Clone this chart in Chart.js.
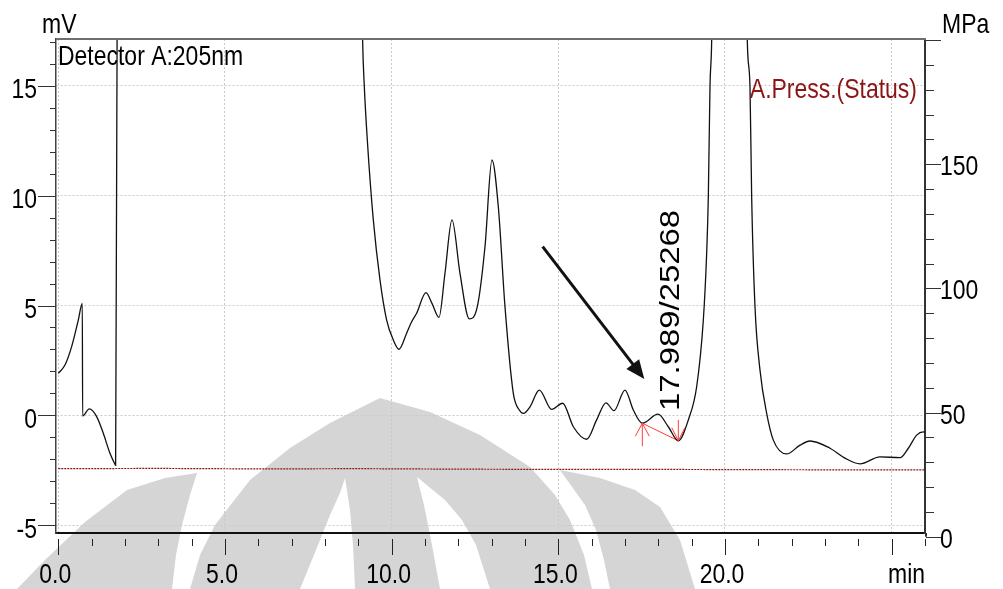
<!DOCTYPE html>
<html>
<head>
<meta charset="utf-8">
<title>Detector A 205nm</title>
<script src="https://cdn.jsdelivr.net/npm/chart.js@4.4.1/dist/chart.umd.min.js"></script>
<style>
  html, body { margin: 0; padding: 0; background: #fff; }
  #wrap { width: 1003px; height: 589px; }
</style>
</head>
<body>
<div id="wrap"><canvas id="chrom" width="1003" height="589"></canvas></div>
<script>
// retention time (min) / detector A signal (mV)
const timeMin = [
  0.00, 0.20, 0.40, 0.60, 0.72, 0.73, 0.93, 1.15, 1.35, 1.55, 1.70, 1.72, 1.77,
  3.0, 6.0, 9.0, 9.05, 9.13, 9.18, 9.27, 9.45, 9.65, 9.85, 10.05, 10.22, 10.45,
  10.60, 10.75, 11.03, 11.21, 11.42, 11.60, 11.81, 12.05, 12.33, 12.57, 12.80,
  13.01, 13.20, 13.40, 13.65, 13.83, 13.95, 14.15, 14.43, 14.80, 15.13, 15.45,
  15.85, 16.15, 16.43, 16.67, 17.00, 17.25, 17.52, 17.99, 18.30, 18.60, 18.90,
  19.15, 19.35, 19.45, 19.50, 19.55, 19.60, 20.13, 20.67, 20.75, 20.80, 20.90,
  21.05, 21.25, 21.45, 21.85, 22.25, 22.55, 23.15, 23.60, 24.05, 24.65, 25.25,
  25.50, 25.75, 25.95, 26.05
];
const signalMv = [
  1.91, 2.29, 3.13, 4.34, 5.10, -0.03, 0.29, -0.06, -0.82, -1.73, -2.23, -2.28, 20,
  40, 45, 30, 25, 17.02, 14.97, 12.54, 8.90, 6.17, 4.34, 3.43, 3.01, 3.74,
  4.26, 4.65, 5.59, 5.10, 4.46, 6.47, 8.90, 6.47, 4.39, 4.95, 7.68,
  11.63, 9.50, 4.95, 1.00, 0.24, 0.09, 0.39, 1.15, 0.27, 0.55, -0.52,
  -1.09, -0.21, 0.57, 0.21, 1.15, 0.24, -0.36, 0.05, -0.52, -1.16, -0.21,
  1.30, 4.34, 7.38, 9.96, 14.97, 17.02, 80, 17.02, 14.97, 9.96, 4.95,
  2.06, 0.09, -1.13, -1.76, -1.36, -1.17, -1.50, -1.95, -2.21, -1.89, -1.93,
  -1.50, -0.90, -0.75, -0.80
];

// pump pressure (MPa)
const pressTime = [0, 3, 6, 9, 12, 15, 18, 21, 24, 26];
const pressMpa = [27.4, 27.5, 27.3, 27.4, 27.2, 27.1, 27.1, 27.0, 26.9, 26.9];

// axis ticks
const xTicks = [0, 5, 10, 15, 20];
const xTickLabels = ['0.0', '5.0', '10.0', '15.0', '20.0'];
const mvTicks = [-5, 0, 5, 10, 15];
const mpaTicks = [0, 50, 100, 150];

// integrated peak: start/end of baseline, label, pointer arrow
const peakTime = 17.989;
const peakArea = 25268;
const peakStart = [17.52, -0.36];
const peakEnd = [18.60, -1.16];
const peakLabelAt = [18.40, 0.20];
const arrowFrom = [14.53, 7.68];
const arrowTo = [17.58, 1.65];

const SANS = "'Liberation Sans', Arial, sans-serif";
const NARROW = 0.82;          // Arial Narrow look from Liberation Sans
const GRID = '#c9c9c9';
const PRESS_RED = '#8c1414';
const MARK_RED = '#ff3c3c';

const toXY = (xs, ys) => xs.map((x, i) => ({ x: x, y: ys[i] }));

function narrowText(ctx, text, px, py, align, color) {
  ctx.save();
  ctx.translate(px, py);
  ctx.scale(NARROW, 1);
  ctx.font = '28px ' + SANS;
  ctx.textAlign = align;
  ctx.textBaseline = 'alphabetic';
  ctx.fillStyle = color;
  ctx.fillText(text, 0, 0);
  ctx.restore();
}

// faint logo printed behind the plot
const backdrop = {
  id: 'backdrop',
  beforeDraw(chart) {
    const ctx = chart.ctx;
    const poly = (pts, fill) => {
      ctx.beginPath();
      pts.forEach((p, i) => i ? ctx.lineTo(p[0], p[1]) : ctx.moveTo(p[0], p[1]));
      ctx.closePath();
      ctx.fillStyle = fill;
      ctx.fill();
    };
    ctx.save();
    ctx.fillStyle = '#fff';
    ctx.fillRect(0, 0, chart.width, chart.height);
    const grey = '#d5d5d5';
    poly([[17,589],[45,560],[85,522],[127,490],[165,478],[197,473],[190,495],[182,525],[176,555],[172,589]], grey);
    poly([[190,589],[200,555],[215,525],[250,480],[290,448],[330,423],[380,398],[430,412],
          [480,435],[530,467],[555,495],[570,520],[584,555],[592,589]], grey);
    poly([[560,470],[600,478],[635,490],[660,507],[680,540],[695,589],[610,589],[604,560],[596,530],[585,505]], grey);
    poly([[345,478],[340,493],[330,515],[318,545],[300,589],[355,589],[353,545],[350,510]], '#fff');
    poly([[417,477],[445,500],[462,520],[476,545],[490,589],[440,589],[432,545],[424,505]], '#fff');
    ctx.restore();
  }
};

// tick marks, labels, frame, captions and the peak annotation
const decorations = {
  id: 'decorations',
  afterDraw(chart) {
    const ctx = chart.ctx;
    const { left, right, top, bottom } = chart.chartArea;
    const x = chart.scales.x, y = chart.scales.y, y2 = chart.scales.y2;
    const line = (x1, y1, x2, y2_, color, w) => {
      ctx.beginPath();
      ctx.moveTo(x1, y1);
      ctx.lineTo(x2, y2_);
      ctx.strokeStyle = color;
      ctx.lineWidth = w;
      ctx.stroke();
    };
    ctx.save();

    // top frame
    line(left, top, right + 1, top, '#6e6e6e', 2);
    // right axis runs down to its own zero
    line(right + 1, bottom, right + 1, y2.getPixelForValue(0), '#333', 2);

    // x ticks sit a little below the axis line
    for (let v = 0; v <= 26; v++) {
      const px = Math.round(x.getPixelForValue(v)) + 0.5;
      const major = v % 5 === 0;
      line(px, bottom + 6, px, bottom + (major ? 22 : 13), '#222', 1);
    }
    for (let v = -5; v <= 17; v++) {
      const py = Math.round(y.getPixelForValue(v)) + 0.5;
      const major = v % 5 === 0;
      line(left - (major ? 18 : 6), py, left, py, '#333', 1);
    }
    for (let v = 0; v <= 200; v += 10) {
      const py = Math.round(y2.getPixelForValue(v)) + 0.5;
      if (py < top) continue;
      const major = v % 50 === 0;
      line(right + 1, py, right + (major ? 16 : 9), py, '#333', 1);
    }

    // tick labels
    xTicks.forEach((v, i) => narrowText(ctx, xTickLabels[i], x.getPixelForValue(v) - 3, 583, 'center', '#000'));
    mvTicks.forEach(v => narrowText(ctx, String(v), left - 19, y.getPixelForValue(v) + 12.5, 'right', '#000'));
    mpaTicks.forEach(v => narrowText(ctx, String(v), right + 15, y2.getPixelForValue(v) + 11, 'left', '#000'));

    // captions
    narrowText(ctx, 'mV', 42, 33, 'left', '#000');
    narrowText(ctx, 'MPa', 942, 33, 'left', '#000');
    narrowText(ctx, 'Detector A:205nm', left + 2, 65, 'left', '#000');
    narrowText(ctx, 'min', 888, 583, 'left', '#000');
    narrowText(ctx, 'A.Press.(Status)', 917, 98, 'right', PRESS_RED);

    // baseline markers of the integrated peak
    const s = [x.getPixelForValue(peakStart[0]), y.getPixelForValue(peakStart[1])];
    const e = [x.getPixelForValue(peakEnd[0]), y.getPixelForValue(peakEnd[1])];
    line(s[0], s[1], s[0], s[1] + 23, MARK_RED, 1);
    line(s[0], s[1], s[0] - 7, s[1] + 13, MARK_RED, 1);
    line(s[0], s[1], s[0] + 7, s[1] + 13, MARK_RED, 1);
    line(e[0], e[1], e[0], e[1] - 21, MARK_RED, 1);
    line(e[0], e[1], e[0] - 6.5, e[1] - 13, MARK_RED, 1);
    line(e[0], e[1], e[0] + 6.5, e[1] - 13, MARK_RED, 1);

    // pointer arrow
    const a0 = [x.getPixelForValue(arrowFrom[0]), y.getPixelForValue(arrowFrom[1])];
    const a1 = [x.getPixelForValue(arrowTo[0]), y.getPixelForValue(arrowTo[1])];
    const dx = a1[0] - a0[0], dy = a1[1] - a0[1];
    const len = Math.hypot(dx, dy), ux = dx / len, uy = dy / len;
    const headLen = 19, headHalf = 8;
    const bx = a1[0] - ux * headLen, by = a1[1] - uy * headLen;
    line(a0[0], a0[1], bx + ux * 2, by + uy * 2, '#111', 3);
    ctx.beginPath();
    ctx.moveTo(a1[0], a1[1]);
    ctx.lineTo(bx - uy * headHalf, by + ux * headHalf);
    ctx.lineTo(bx + uy * headHalf, by - ux * headHalf);
    ctx.closePath();
    ctx.fillStyle = '#111';
    ctx.fill();

    // retention time / area label, written upwards
    const label = peakTime.toFixed(3) + '/' + peakArea;
    ctx.translate(x.getPixelForValue(peakLabelAt[0]), y.getPixelForValue(peakLabelAt[1]));
    ctx.rotate(-Math.PI / 2);
    ctx.font = '28px ' + SANS;
    const w = ctx.measureText(label).width;
    ctx.scale(201 / w, 1);
    ctx.fillStyle = '#000';
    ctx.textAlign = 'left';
    ctx.textBaseline = 'middle';
    ctx.fillText(label, 0, 0);

    ctx.restore();
  }
};

new Chart(document.getElementById('chrom'), {
  type: 'line',
  data: {
    datasets: [
      {
        data: toXY(timeMin, signalMv),
        yAxisID: 'y',
        borderColor: '#111',
        borderWidth: 1.3,
        pointRadius: 0,
        cubicInterpolationMode: 'monotone'
      },
      {
        data: toXY(pressTime, pressMpa),
        yAxisID: 'y2',
        borderColor: PRESS_RED,
        borderWidth: 1.2,
        borderDash: [2, 1],
        pointRadius: 0,
        tension: 0
      },
      {
        data: toXY([peakStart[0], peakEnd[0]], [peakStart[1], peakEnd[1]]),
        yAxisID: 'y',
        borderColor: MARK_RED,
        borderWidth: 1,
        pointRadius: 0
      }
    ]
  },
  options: {
    responsive: false,
    animation: false,
    devicePixelRatio: 1,
    layout: { padding: { top: 39, left: 0, right: 0, bottom: 0 } },
    plugins: { legend: { display: false }, tooltip: { enabled: false } },
    scales: {
      x: {
        type: 'linear',
        min: -0.069,
        max: 26.0,
        afterFit: s => { s.height = 56; },
        afterBuildTicks: s => { s.ticks = xTicks.concat([25]).map(v => ({ value: v })); },
        grid: { color: GRID, lineWidth: 1, drawTicks: false },
        border: { color: '#111', width: 2, dash: [2, 2] },
        ticks: { display: false }
      },
      y: {
        position: 'left',
        min: -5.36,
        max: 17.14,
        afterFit: s => { s.width = 56; },
        afterBuildTicks: s => { s.ticks = mvTicks.map(v => ({ value: v })); },
        grid: { color: GRID, lineWidth: 1, drawTicks: false },
        border: { color: '#444', width: 1.5, dash: [2, 2] },
        ticks: { display: false }
      },
      y2: {
        position: 'right',
        min: 1.49,
        max: 200.44,
        afterFit: s => { s.width = 78; },
        afterBuildTicks: s => { s.ticks = mpaTicks.map(v => ({ value: v })); },
        grid: { display: false, drawTicks: false },
        border: { color: '#333', width: 2 },
        ticks: { display: false }
      }
    }
  },
  plugins: [backdrop, decorations]
});
</script>
</body>
</html>
